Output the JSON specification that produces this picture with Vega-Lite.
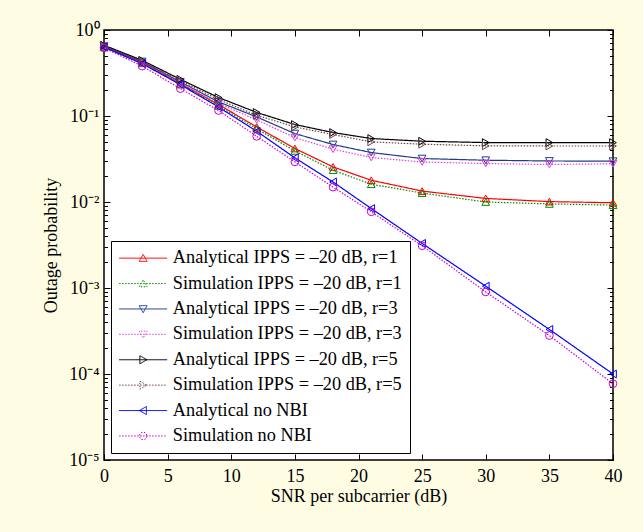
{
  "$schema": "https://vega.github.io/schema/vega-lite/v6.json",
  "width": 509,
  "height": 430,
  "autosize": {"type": "none"},
  "padding": {"left": 104, "top": 30, "right": 30, "bottom": 72},
  "background": "#fefde3",
  "config": {
    "view": {"fill": "white", "stroke": "black", "strokeWidth": 1.5},
    "axis": {"labelFont": "Liberation Serif", "titleFont": "Liberation Serif", "labelFontSize": 18, "titleFontSize": 18, "titleFontWeight": "normal", "labelColor": "black", "titleColor": "black", "tickColor": "black", "domain": false, "grid": false, "tickWidth": 1, "labelOverlap": false, "labelFlush": false},
    "legend": {"orient": "bottom-left", "offset": 7, "padding": 8, "strokeColor": "black", "fillColor": "white", "rowPadding": 6.4, "labelFont": "Liberation Serif", "labelFontSize": 18.3, "labelColor": "black", "symbolOffset": 15, "labelOffset": 20.5, "labelLimit": 0, "symbolSize": 100, "symbolStrokeWidth": 1}
  },
  "data": {"values": [
    {"series": "Analytical IPPS = –20 dB, r=1", "snr": 0, "p": 0.64},
    {"series": "Analytical IPPS = –20 dB, r=1", "snr": 3, "p": 0.42},
    {"series": "Analytical IPPS = –20 dB, r=1", "snr": 6, "p": 0.238},
    {"series": "Analytical IPPS = –20 dB, r=1", "snr": 9, "p": 0.136},
    {"series": "Analytical IPPS = –20 dB, r=1", "snr": 12, "p": 0.0746},
    {"series": "Analytical IPPS = –20 dB, r=1", "snr": 15, "p": 0.0419},
    {"series": "Analytical IPPS = –20 dB, r=1", "snr": 18, "p": 0.0256},
    {"series": "Analytical IPPS = –20 dB, r=1", "snr": 21, "p": 0.0179},
    {"series": "Analytical IPPS = –20 dB, r=1", "snr": 25, "p": 0.0134},
    {"series": "Analytical IPPS = –20 dB, r=1", "snr": 30, "p": 0.011},
    {"series": "Analytical IPPS = –20 dB, r=1", "snr": 35, "p": 0.0101},
    {"series": "Analytical IPPS = –20 dB, r=1", "snr": 40, "p": 0.0098},
    {"series": "Simulation IPPS = –20 dB, r=1", "snr": 0, "p": 0.63},
    {"series": "Simulation IPPS = –20 dB, r=1", "snr": 3, "p": 0.41},
    {"series": "Simulation IPPS = –20 dB, r=1", "snr": 6, "p": 0.232},
    {"series": "Simulation IPPS = –20 dB, r=1", "snr": 9, "p": 0.131},
    {"series": "Simulation IPPS = –20 dB, r=1", "snr": 12, "p": 0.071},
    {"series": "Simulation IPPS = –20 dB, r=1", "snr": 15, "p": 0.0393},
    {"series": "Simulation IPPS = –20 dB, r=1", "snr": 18, "p": 0.0234},
    {"series": "Simulation IPPS = –20 dB, r=1", "snr": 21, "p": 0.0161},
    {"series": "Simulation IPPS = –20 dB, r=1", "snr": 25, "p": 0.0127},
    {"series": "Simulation IPPS = –20 dB, r=1", "snr": 30, "p": 0.01},
    {"series": "Simulation IPPS = –20 dB, r=1", "snr": 35, "p": 0.0095},
    {"series": "Simulation IPPS = –20 dB, r=1", "snr": 40, "p": 0.0092},
    {"series": "Analytical IPPS = –20 dB, r=3", "snr": 0, "p": 0.65},
    {"series": "Analytical IPPS = –20 dB, r=3", "snr": 3, "p": 0.43},
    {"series": "Analytical IPPS = –20 dB, r=3", "snr": 6, "p": 0.249},
    {"series": "Analytical IPPS = –20 dB, r=3", "snr": 9, "p": 0.146},
    {"series": "Analytical IPPS = –20 dB, r=3", "snr": 12, "p": 0.0975},
    {"series": "Analytical IPPS = –20 dB, r=3", "snr": 15, "p": 0.0625},
    {"series": "Analytical IPPS = –20 dB, r=3", "snr": 18, "p": 0.0466},
    {"series": "Analytical IPPS = –20 dB, r=3", "snr": 21, "p": 0.0376},
    {"series": "Analytical IPPS = –20 dB, r=3", "snr": 25, "p": 0.032},
    {"series": "Analytical IPPS = –20 dB, r=3", "snr": 30, "p": 0.0306},
    {"series": "Analytical IPPS = –20 dB, r=3", "snr": 35, "p": 0.03},
    {"series": "Analytical IPPS = –20 dB, r=3", "snr": 40, "p": 0.0298},
    {"series": "Simulation IPPS = –20 dB, r=3", "snr": 0, "p": 0.63},
    {"series": "Simulation IPPS = –20 dB, r=3", "snr": 3, "p": 0.41},
    {"series": "Simulation IPPS = –20 dB, r=3", "snr": 6, "p": 0.24},
    {"series": "Simulation IPPS = –20 dB, r=3", "snr": 9, "p": 0.14},
    {"series": "Simulation IPPS = –20 dB, r=3", "snr": 12, "p": 0.09},
    {"series": "Simulation IPPS = –20 dB, r=3", "snr": 15, "p": 0.0561},
    {"series": "Simulation IPPS = –20 dB, r=3", "snr": 18, "p": 0.0411},
    {"series": "Simulation IPPS = –20 dB, r=3", "snr": 21, "p": 0.0329},
    {"series": "Simulation IPPS = –20 dB, r=3", "snr": 25, "p": 0.0292},
    {"series": "Simulation IPPS = –20 dB, r=3", "snr": 30, "p": 0.028},
    {"series": "Simulation IPPS = –20 dB, r=3", "snr": 35, "p": 0.0273},
    {"series": "Simulation IPPS = –20 dB, r=3", "snr": 40, "p": 0.0278},
    {"series": "Analytical IPPS = –20 dB, r=5", "snr": 0, "p": 0.665},
    {"series": "Analytical IPPS = –20 dB, r=5", "snr": 3, "p": 0.444},
    {"series": "Analytical IPPS = –20 dB, r=5", "snr": 6, "p": 0.267},
    {"series": "Analytical IPPS = –20 dB, r=5", "snr": 9, "p": 0.164},
    {"series": "Analytical IPPS = –20 dB, r=5", "snr": 12, "p": 0.11},
    {"series": "Analytical IPPS = –20 dB, r=5", "snr": 15, "p": 0.0796},
    {"series": "Analytical IPPS = –20 dB, r=5", "snr": 18, "p": 0.0642},
    {"series": "Analytical IPPS = –20 dB, r=5", "snr": 21, "p": 0.0547},
    {"series": "Analytical IPPS = –20 dB, r=5", "snr": 25, "p": 0.0509},
    {"series": "Analytical IPPS = –20 dB, r=5", "snr": 30, "p": 0.0491},
    {"series": "Analytical IPPS = –20 dB, r=5", "snr": 35, "p": 0.0491},
    {"series": "Analytical IPPS = –20 dB, r=5", "snr": 40, "p": 0.049},
    {"series": "Simulation IPPS = –20 dB, r=5", "snr": 0, "p": 0.65},
    {"series": "Simulation IPPS = –20 dB, r=5", "snr": 3, "p": 0.43},
    {"series": "Simulation IPPS = –20 dB, r=5", "snr": 6, "p": 0.258},
    {"series": "Simulation IPPS = –20 dB, r=5", "snr": 9, "p": 0.155},
    {"series": "Simulation IPPS = –20 dB, r=5", "snr": 12, "p": 0.102},
    {"series": "Simulation IPPS = –20 dB, r=5", "snr": 15, "p": 0.0746},
    {"series": "Simulation IPPS = –20 dB, r=5", "snr": 18, "p": 0.0609},
    {"series": "Simulation IPPS = –20 dB, r=5", "snr": 21, "p": 0.05},
    {"series": "Simulation IPPS = –20 dB, r=5", "snr": 25, "p": 0.047},
    {"series": "Simulation IPPS = –20 dB, r=5", "snr": 30, "p": 0.045},
    {"series": "Simulation IPPS = –20 dB, r=5", "snr": 35, "p": 0.0448},
    {"series": "Simulation IPPS = –20 dB, r=5", "snr": 40, "p": 0.0448},
    {"series": "Analytical no NBI", "snr": 0, "p": 0.63},
    {"series": "Analytical no NBI", "snr": 3, "p": 0.406},
    {"series": "Analytical no NBI", "snr": 6, "p": 0.232},
    {"series": "Analytical no NBI", "snr": 9, "p": 0.127},
    {"series": "Analytical no NBI", "snr": 12, "p": 0.0665},
    {"series": "Analytical no NBI", "snr": 15, "p": 0.0326},
    {"series": "Analytical no NBI", "snr": 18, "p": 0.0171},
    {"series": "Analytical no NBI", "snr": 21, "p": 0.0084},
    {"series": "Analytical no NBI", "snr": 25, "p": 0.0033},
    {"series": "Analytical no NBI", "snr": 30, "p": 0.00105},
    {"series": "Analytical no NBI", "snr": 35, "p": 0.00033},
    {"series": "Analytical no NBI", "snr": 40, "p": 0.0001},
    {"series": "Simulation no NBI", "snr": 0, "p": 0.62},
    {"series": "Simulation no NBI", "snr": 3, "p": 0.38},
    {"series": "Simulation no NBI", "snr": 6, "p": 0.208},
    {"series": "Simulation no NBI", "snr": 9, "p": 0.116},
    {"series": "Simulation no NBI", "snr": 12, "p": 0.058},
    {"series": "Simulation no NBI", "snr": 15, "p": 0.0293},
    {"series": "Simulation no NBI", "snr": 18, "p": 0.0149},
    {"series": "Simulation no NBI", "snr": 21, "p": 0.0077},
    {"series": "Simulation no NBI", "snr": 25, "p": 0.0031},
    {"series": "Simulation no NBI", "snr": 30, "p": 0.0009},
    {"series": "Simulation no NBI", "snr": 35, "p": 0.00028},
    {"series": "Simulation no NBI", "snr": 40, "p": 0.000077}
  ]},
  "layer": [
    {
      "mark": {"type": "line", "strokeWidth": 1.2},
      "encoding": {
        "x": {"field": "snr", "type": "quantitative", "scale": {"domain": [0, 40], "nice": false},
          "axis": {"orient": "bottom", "values": [0, 5, 10, 15, 20, 25, 30, 35, 40], "tickSize": -6, "labelPadding": 13, "title": "SNR per subcarrier (dB)", "titlePadding": 2}},
        "y": {"field": "p", "type": "quantitative", "scale": {"type": "log", "domain": [0.00001, 1], "nice": false},
          "axis": {"orient": "left",
            "values": [0.00001, 0.00002, 0.00003, 0.00004, 0.00005, 0.00006, 0.00007, 0.00008, 0.00009, 0.0001, 0.0002, 0.0003, 0.0004, 0.0005, 0.0006, 0.0007, 0.0008, 0.0009, 0.001, 0.002, 0.003, 0.004, 0.005, 0.006, 0.007, 0.008, 0.009, 0.01, 0.02, 0.03, 0.04, 0.05, 0.06, 0.07, 0.08, 0.09, 0.1, 0.2, 0.3, 0.4, 0.5, 0.6, 0.7, 0.8, 0.9, 1],
            "tickSize": {"condition": {"test": "abs(log(datum.value)/LN10 - round(log(datum.value)/LN10)) < 0.01", "value": -6}, "value": -3.5},
            "labelPadding": 11,
            "labelExpr": "abs(log(datum.value)/LN10 - round(log(datum.value)/LN10)) < 0.01 ? '10' + ['⁰','⁻¹','⁻²','⁻³','⁻⁴','⁻⁵'][-round(log(datum.value)/LN10)] : ''",
            "title": "Outage probability", "titlePadding": 8}},
        "color": {"field": "series", "type": "nominal",
          "scale": {"domain": ["Analytical IPPS = –20 dB, r=1", "Simulation IPPS = –20 dB, r=1", "Analytical IPPS = –20 dB, r=3", "Simulation IPPS = –20 dB, r=3", "Analytical IPPS = –20 dB, r=5", "Simulation IPPS = –20 dB, r=5", "Analytical no NBI", "Simulation no NBI"],
            "range": ["#ff0000", "#008a00", "#1f3d8a", "#e040e0", "#000000", "#6b4545", "#0000ff", "#cc00cc"]},
          "legend": null},
        "strokeDash": {"field": "series", "type": "nominal",
          "scale": {"domain": ["Analytical IPPS = –20 dB, r=1", "Simulation IPPS = –20 dB, r=1", "Analytical IPPS = –20 dB, r=3", "Simulation IPPS = –20 dB, r=3", "Analytical IPPS = –20 dB, r=5", "Simulation IPPS = –20 dB, r=5", "Analytical no NBI", "Simulation no NBI"],
            "range": [[1, 0], [1.5, 1.5], [1, 0], [1.5, 1.5], [1, 0], [1.5, 1.5], [1, 0], [1.5, 1.5]]},
          "legend": null}
      }
    },
    {
      "mark": {"type": "point", "filled": false, "size": 60, "strokeWidth": 1, "opacity": 1},
      "encoding": {
        "x": {"field": "snr", "type": "quantitative", "scale": {"domain": [0, 40], "nice": false},
          "axis": {"orient": "top", "values": [0, 5, 10, 15, 20, 25, 30, 35, 40], "tickSize": -6, "labels": false, "title": null}},
        "y": {"field": "p", "type": "quantitative", "scale": {"type": "log", "domain": [0.00001, 1], "nice": false},
          "axis": {"orient": "right",
            "values": [0.00001, 0.00002, 0.00003, 0.00004, 0.00005, 0.00006, 0.00007, 0.00008, 0.00009, 0.0001, 0.0002, 0.0003, 0.0004, 0.0005, 0.0006, 0.0007, 0.0008, 0.0009, 0.001, 0.002, 0.003, 0.004, 0.005, 0.006, 0.007, 0.008, 0.009, 0.01, 0.02, 0.03, 0.04, 0.05, 0.06, 0.07, 0.08, 0.09, 0.1, 0.2, 0.3, 0.4, 0.5, 0.6, 0.7, 0.8, 0.9, 1],
            "tickSize": {"condition": {"test": "abs(log(datum.value)/LN10 - round(log(datum.value)/LN10)) < 0.01", "value": -6}, "value": -3.5},
            "labels": false, "title": null}},
        "color": {"field": "series", "type": "nominal",
          "scale": {"domain": ["Analytical IPPS = –20 dB, r=1", "Simulation IPPS = –20 dB, r=1", "Analytical IPPS = –20 dB, r=3", "Simulation IPPS = –20 dB, r=3", "Analytical IPPS = –20 dB, r=5", "Simulation IPPS = –20 dB, r=5", "Analytical no NBI", "Simulation no NBI"],
            "range": ["#ff0000", "#008a00", "#1f3d8a", "#e040e0", "#000000", "#6b4545", "#0000ff", "#cc00cc"]},
          "legend": {"title": null,
            "symbolType": {"expr": "['M-4.8,0H4.8M-0.8,0.65L0,-0.75L0.8,0.65Z','M-4.8,0H4.8M-0.8,0.65L0,-0.75L0.8,0.65Z','M-4.8,0H4.8M-0.8,-0.65L0,0.75L0.8,-0.65Z','M-4.8,0H4.8M-0.8,-0.65L0,0.75L0.8,-0.65Z','M-4.8,0H4.8M-0.65,-0.8L0.75,0L-0.65,0.8Z','M-4.8,0H4.8M-0.65,-0.8L0.75,0L-0.65,0.8Z','M-4.8,0H4.8M0.65,-0.8L-0.75,0L0.65,0.8Z','M-4.8,0H4.8M0.75,0A0.75,0.75,0,1,1,-0.75,0A0.75,0.75,0,1,1,0.75,0Z'][datum.index]"},
            "symbolDash": {"expr": "datum.index % 2 == 1 ? [1.5, 1.5] : [1, 0]"}}},
        "shape": {"field": "series", "type": "nominal",
          "scale": {"domain": ["Simulation no NBI", "Analytical no NBI", "Simulation IPPS = –20 dB, r=5", "Analytical IPPS = –20 dB, r=5", "Simulation IPPS = –20 dB, r=3", "Analytical IPPS = –20 dB, r=3", "Simulation IPPS = –20 dB, r=1", "Analytical IPPS = –20 dB, r=1"],
            "range": ["circle", "triangle-left", "triangle-right", "triangle-right", "triangle-down", "triangle-down", "triangle-up", "triangle-up"]},
          "legend": null}
      }
    }
  ],
  "resolve": {"axis": {"x": "independent", "y": "independent"}, "scale": {"color": "independent"}}
}
